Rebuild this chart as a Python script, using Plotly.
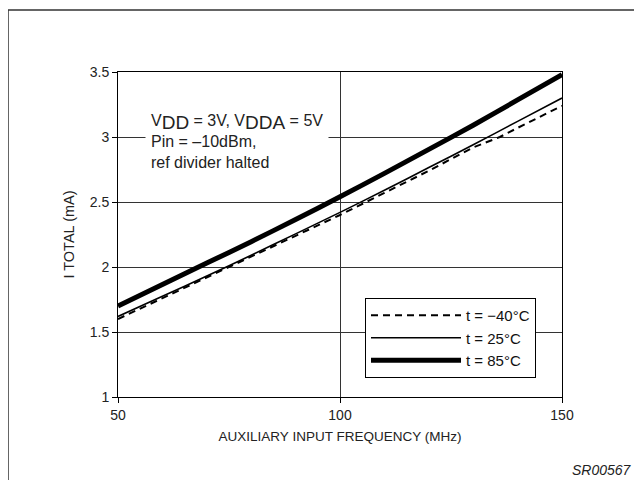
import plotly.graph_objects as go

freq_mhz = [50, 60, 70, 80, 90, 100, 110, 120, 130, 140, 150]
i_85c = [1.70, 1.865, 2.03, 2.195, 2.365, 2.54, 2.72, 2.905, 3.09, 3.285, 3.48]
i_25c = [1.62, 1.775, 1.93, 2.09, 2.255, 2.42, 2.59, 2.765, 2.94, 3.12, 3.30]
freq_m40 = [50, 60, 70, 80, 90, 100, 110, 120, 130, 134, 136, 140, 150]
i_m40c = [1.60, 1.76, 1.92, 2.08, 2.24, 2.40, 2.57, 2.74, 2.92, 2.97, 3.00, 3.07, 3.24]

series_names = ["t = \u221240\u00b0C", "t = 25\u00b0C", "t = 85\u00b0C"]
x_ticks = [50, 100, 150]
y_ticks = [1, 1.5, 2, 2.5, 3, 3.5]

FONT = "Liberation Sans, Arial, sans-serif"

fig = go.Figure()
fig.add_trace(go.Scatter(x=freq_m40, y=i_m40c, mode="lines", name=series_names[0],
                         line=dict(color="black", width=2, dash="7px,5px")))
fig.add_trace(go.Scatter(x=freq_mhz, y=i_25c, mode="lines", name=series_names[1],
                         line=dict(color="black", width=1.6, shape="spline", smoothing=0.6)))
fig.add_trace(go.Scatter(x=freq_mhz, y=i_85c, mode="lines", name=series_names[2],
                         line=dict(color="black", width=5, shape="spline", smoothing=0.6)))

OFF = 8  # page body margin
W, H = 642 - OFF, 480 - OFF
L, T = 118 - OFF, 72 - OFF
pw, ph = 444, 325
R, B = W - L - pw, H - T - ph

def px_to_paper_x(px):  # px in page coordinates
    return (px - OFF - L) / pw

def px_to_paper_y(py):
    return (T + ph - (py - OFF)) / ph

fig.update_layout(
    width=W, height=H,
    margin=dict(l=L, r=R, t=T, b=B),
    paper_bgcolor="white", plot_bgcolor="white",
    font=dict(family=FONT, size=13, color="#222"),
    showlegend=True,
    legend=dict(
        x=px_to_paper_x(365), y=px_to_paper_y(298), xanchor="left", yanchor="top",
        bgcolor="white", bordercolor="black", borderwidth=1,
        font=dict(family=FONT, size=15, color="#111"),
        itemwidth=90, tracegroupgap=0,
    ),
    xaxis=dict(
        range=[50, 150], tickvals=x_ticks, ticktext=[str(v) for v in x_ticks],
        showgrid=True, gridcolor="#333", gridwidth=1,
        showline=True, linecolor="black", linewidth=1, mirror=True,
        ticks="outside", ticklen=5, tickcolor="black",
        tickfont=dict(size=14),
        zeroline=False,
        title=dict(text="AUXILIARY INPUT FREQUENCY (MHz)", standoff=9,
                   font=dict(family=FONT, size=13.5, color="#222")),
    ),
    yaxis=dict(
        range=[1, 3.5], tickvals=y_ticks, ticktext=["1", "1.5", "2", "2.5", "3", "3.5"],
        showgrid=True, gridcolor="#333", gridwidth=1,
        showline=True, linecolor="black", linewidth=1, mirror=True,
        ticks="outside", ticklen=5, tickcolor="black",
        tickfont=dict(size=14),
        zeroline=False,
        title=dict(text="I TOTAL (mA)", standoff=11,
                   font=dict(family=FONT, size=14.5, color="#222")),
    ),
)

# outer frame (top and left edges visible)
fig.add_shape(type="rect", xref="paper", yref="paper",
              x0=px_to_paper_x(8), x1=px_to_paper_x(700),
              y0=px_to_paper_y(560), y1=px_to_paper_y(10),
              line=dict(color="#333", width=1.5), fillcolor="rgba(0,0,0,0)", layer="below")

# conditions text box
fig.add_annotation(
    xref="paper", yref="paper", x=px_to_paper_x(145), y=px_to_paper_y(106),
    xanchor="left", yanchor="top", align="left", showarrow=False,
    text=("V<sub><span style=\"font-size:19px\">DD</span></sub> = 3V, "
          "V<sub><span style=\"font-size:19px\">DDA</span></sub> = 5V<br>"
          "Pin = \u201310dBm,<br>ref divider halted"),
    font=dict(family=FONT, size=16, color="#222"),
    bgcolor="white", borderpad=5,
)

# figure code
fig.add_annotation(
    xref="paper", yref="paper", x=px_to_paper_x(634), y=px_to_paper_y(470),
    xanchor="right", yanchor="middle", showarrow=False,
    text="<i>SR00567</i>",
    font=dict(family=FONT, size=14, color="#222"),
)

fig.write_html("out.html")
